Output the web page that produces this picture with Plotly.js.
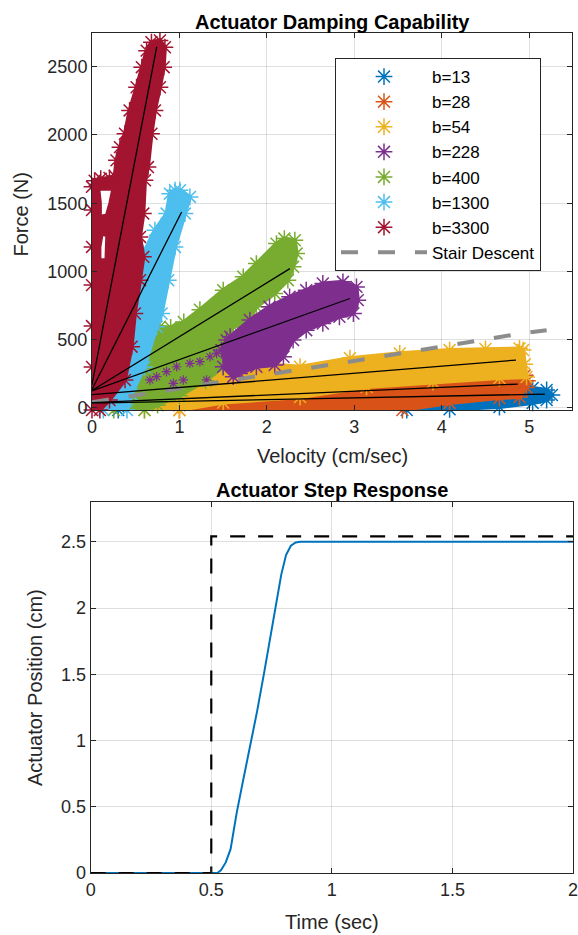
<!DOCTYPE html>
<html><head><meta charset="utf-8">
<script src="https://cdn.plot.ly/plotly-3.0.1.min.js"></script>
<style>html,body{margin:0;padding:0;background:#fff;}#chart{width:578px;height:935px;}</style>
</head><body><div id="chart"></div>
<script>
// ---------------- DATA ----------------
const seriesLabels = ['b=13','b=28','b=54','b=228','b=400','b=1300','b=3300'];

// outline of each measured point cloud: velocity (cm/sec), force (N)
const b13_vel   = [0.3, 3.6, 4.09, 4.66, 5.04, 5.2, 5.26, 5.2, 5.04, 4.9, 4.0, 2.0, 0.3];
const b13_force = [-15, -15, -10, 7, 37, 58, 95, 132, 146, 140, 100, 50, 10];

const b28_vel   = [1.0, 3.55, 4.09, 4.66, 4.89, 4.97, 4.98, 4.95, 4.66, 3.9, 3.14, 2.38, 1.5, 1.0];
const b28_force = [-15, -15, 37, 73, 80, 150, 200, 240, 219, 190, 154, 80, 45, 20];

const b54_vel   = [0.6, 1.0, 1.5, 2.38, 3.14, 3.9, 4.66, 4.97, 4.95, 4.93, 4.89, 4.5, 4.09, 3.52, 2.95, 2.38, 2.0, 1.6, 1.2, 0.74, 0.55];
const b54_force = [-15, -15, 40, 80, 154, 190, 219, 227, 320, 424, 436, 432, 424, 400, 365, 302, 320, 330, 250, 132, 40];

const b400_vel   = [0.25, 0.3, 0.42, 0.549, 0.65, 0.777, 0.9, 1.05, 1.234, 1.501, 1.73, 1.88, 2.11, 2.2, 2.32, 2.34, 2.30, 2.24, 2.09, 1.88, 1.77, 1.615, 1.54, 1.5, 1.3, 1.0, 0.75, 0.6];
const b400_force = [-15, 100, 280, 400, 520, 595, 590, 630, 720, 863, 961, 1058, 1204, 1241, 1229, 1131, 1034, 936, 839, 741, 619, 595, 522, 300, 200, 90, 20, -15];

const b228_vel   = [1.48, 1.54, 1.58, 1.806, 2.03, 2.26, 2.45, 2.64, 2.87, 3.025, 3.04, 2.99, 2.83, 2.64, 2.45, 2.30, 2.19, 2.09, 1.88, 1.69, 1.615, 1.50];
const b228_force = [424, 497, 522, 644, 741, 814, 863, 912, 924, 887, 790, 692, 668, 619, 570, 497, 375, 314, 302, 253, 229, 302];
const b228_speck_vel   = [0.663, 0.739, 0.853, 0.968, 1.044, 1.12, 1.234, 1.349, 1.425, 0.93, 1.31];
const b228_speck_force = [205, 229, 266, 302, 205, 327, 339, 375, 400, 180, 205];

const b1300_vel   = [0.13, 0.32, 0.396, 0.434, 0.49, 0.587, 0.72, 0.853, 0.891, 0.95, 1.006, 1.12, 1.063, 0.949, 0.872, 0.796, 0.739, 0.6, 0.45, 0.4];
const b1300_force = [-15, 205, 449, 692, 936, 1131, 1302, 1424, 1570, 1595, 1595, 1546, 1424, 1180, 936, 692, 595, 300, 100, -15];

const b3300_vel   = [0, 0, 0, 0, 0, 0, 0, 0.03, 0.1, 0.2, 0.26, 0.28, 0.32, 0.377, 0.43, 0.51, 0.57, 0.625, 0.68, 0.777, 0.834, 0.82, 0.777, 0.72, 0.68, 0.64, 0.606, 0.587, 0.549, 0.587, 0.549, 0.49, 0.453, 0.377, 0.2, 0.09];
const b3300_force = [-15, 300, 600, 900, 1180, 1450, 1620, 1665, 1680, 1685, 1700, 1814, 1911, 2009, 2180, 2350, 2497, 2618, 2680, 2692, 2643, 2497, 2350, 2180, 2009, 1765, 1668, 1424, 1253, 1107, 936, 692, 449, 205, 58, -15];
// white gaps inside the b=3300 cloud
const b3300_gapA_vel   = [0.09, 0.09, 0.17, 0.21, 0.244, 0.072, 0.09];
const b3300_gapA_force = [1450, 1400, 1410, 1500, 1606, 1606, 1500];
const b3300_gapB_vel   = [0.085, 0.085, 0.165, 0.175, 0.11];
const b3300_gapB_force = [1180, 1082, 1082, 1265, 1277];

// linear fits (black lines)
const fit_b13_vel   = [0.0, 5.18];  const fit_b13_force   = [35, 102];
const fit_b28_vel   = [0.0, 4.87];  const fit_b28_force   = [39, 175];
const fit_b54_vel   = [0.0, 4.85];  const fit_b54_force   = [98, 351];
const fit_b228_vel  = [0.0, 2.95];  const fit_b228_force  = [125, 802];
const fit_b400_vel  = [0.0, 2.263]; const fit_b400_force  = [128, 1021];
const fit_b1300_vel = [0.0, 1.025]; const fit_b1300_force = [135, 1436];
const fit_b3300_vel = [0.0, 0.74];  const fit_b3300_force = [170, 2645];

// stair descent demand
const stair_vel   = [0.0, 1.88, 2.68, 3.18, 4.93, 5.2];
const stair_force = [42, 229, 314, 363, 548, 570];

// step response
const step_time = [0, 0.525, 0.54, 0.56, 0.58, 0.605, 0.63, 0.66, 0.69, 0.72, 0.75, 0.771, 0.79, 0.81, 0.83, 0.85, 0.87, 2.0];
const step_pos  = [0, 0, 0.02, 0.08, 0.18, 0.45, 0.68, 0.95, 1.22, 1.52, 1.83, 2.05, 2.25, 2.40, 2.47, 2.495, 2.5, 2.5];
const cmd_time  = [0, 0.5, 0.5, 2.0];
const cmd_pos   = [0, 0, 2.54, 2.54];

// ticks
const velTicks   = [0, 1, 2, 3, 4, 5];
const forceTicks = [0, 500, 1000, 1500, 2000, 2500];
const timeTicks  = [0, 0.5, 1, 1.5, 2];
const posTicks   = [0, 0.5, 1, 1.5, 2, 2.5];

// ---------------- BUILD ----------------
const FONT = 'Liberation Sans, Arial, Helvetica, sans-serif';
const colors = {'b=13':'#0072BD','b=28':'#D95319','b=54':'#EDB120','b=228':'#7E2F8E','b=400':'#77AC30','b=1300':'#4DBEEE','b=3300':'#A2142F'};

function keyhole(ox, oy, holes) {
  const X = [], Y = [];
  for (let i = 0; i < ox.length; i++) {
    X.push(ox[i]); Y.push(oy[i]);
    holes.forEach(h => {
      if (oy[i] === h.y[0] && ox[i] === 0) {
        for (let j = 0; j < h.x.length; j++) { X.push(h.x[j]); Y.push(h.y[j]); }
        X.push(h.x[0]); Y.push(h.y[0]);
        X.push(ox[i]); Y.push(oy[i]);
      }
    });
  }
  return {X, Y};
}

const clouds = {
  'b=13':  {x: b13_vel,  y: b13_force},
  'b=28':  {x: b28_vel,  y: b28_force},
  'b=54':  {x: b54_vel,  y: b54_force},
  'b=400': {x: b400_vel, y: b400_force},
  'b=228': {x: b228_vel, y: b228_force},
  'b=1300':{x: b1300_vel,y: b1300_force},
  'b=3300':{x: b3300_vel,y: b3300_force}
};
const fits = {
  'b=13':[fit_b13_vel,fit_b13_force],'b=28':[fit_b28_vel,fit_b28_force],'b=54':[fit_b54_vel,fit_b54_force],
  'b=228':[fit_b228_vel,fit_b228_force],'b=400':[fit_b400_vel,fit_b400_force],
  'b=1300':[fit_b1300_vel,fit_b1300_force],'b=3300':[fit_b3300_vel,fit_b3300_force]
};
const drawOrder = ['b=13','b=28','b=54','b=400','b=228','b=1300','b=3300'];

const traces = [];
drawOrder.forEach(lab => {
  const c = colors[lab];
  let px = clouds[lab].x, py = clouds[lab].y;
  if (lab === 'b=3300') {
    const k = keyhole(px, py, [{x:b3300_gapB_vel,y:b3300_gapB_force},{x:b3300_gapA_vel,y:b3300_gapA_force}]);
    px = k.X; py = k.Y;
  }
  traces.push({x: px, y: py, mode:'lines', fill:'toself', fillcolor:c,
    line:{color:c, width:4, shape:'linear'}, showlegend:false, hoverinfo:'skip', xaxis:'x', yaxis:'y'});
  traces.push({x: clouds[lab].x, y: clouds[lab].y, mode:'markers', name: lab,
    legendrank: seriesLabels.indexOf(lab) + 1, cliponaxis:false,
    marker:{symbol:'asterisk-open', size:14, color:c, line:{color:c, width:1.5}},
    hoverinfo:'skip', xaxis:'x', yaxis:'y'});
  if (lab === 'b=228') {
    traces.push({x: b228_speck_vel, y: b228_speck_force, mode:'markers', showlegend:false,
      marker:{symbol:'asterisk-open', size:8, color:c, line:{color:c, width:1.2}},
      hoverinfo:'skip', xaxis:'x', yaxis:'y'});
  }
});
traces.push({x: stair_vel, y: stair_force, mode:'lines', name:'Stair Descent', legendrank: 8,
  line:{color:'#8c8c8c', width:4, dash:'17px,20px'}, hoverinfo:'skip', xaxis:'x', yaxis:'y'});
seriesLabels.forEach(lab => {
  traces.push({x: fits[lab][0], y: fits[lab][1], mode:'lines', showlegend:false,
    line:{color:'#000', width:1.3}, hoverinfo:'skip', xaxis:'x', yaxis:'y'});
});
traces.push({x: step_time, y: step_pos, mode:'lines', showlegend:false,
  line:{color:'#0072BD', width:2}, hoverinfo:'skip', xaxis:'x2', yaxis:'y2'});
traces.push({x: cmd_time, y: cmd_pos, mode:'lines', showlegend:false, cliponaxis:false,
  line:{color:'#000', width:2.2, dash:'15px,13px'}, hoverinfo:'skip', xaxis:'x2', yaxis:'y2'});

const axisCommon = {
  showline:true, mirror:'ticks', linecolor:'#262626', linewidth:1,
  ticks:'inside', ticklen:5, tickwidth:1, tickcolor:'#262626',
  showgrid:true, gridcolor:'rgba(38,38,38,0.15)', gridwidth:1, zeroline:false,
  ticklabeloverflow:'allow',
  tickfont:{family:FONT, size:18, color:'#262626'}, fixedrange:true
};
const W = 578, H = 935;
const px2x = p => p / W, px2y = p => 1 - p / H;

const layout = {
  width:W, height:H, margin:{l:0,r:0,t:0,b:0}, paper_bgcolor:'#fff', plot_bgcolor:'#fff',
  showlegend:true,
  xaxis: Object.assign({}, axisCommon, {domain:[px2x(92), px2x(572)], range:[0, 5.49], tickvals:velTicks, anchor:'y'}),
  yaxis: Object.assign({}, axisCommon, {domain:[px2y(410), px2y(33.3)], range:[-15, 2745], tickvals:forceTicks, anchor:'x'}),
  xaxis2: Object.assign({}, axisCommon, {domain:[px2x(90.7), px2x(573)], range:[0, 2], tickvals:timeTicks, anchor:'y2'}),
  yaxis2: Object.assign({}, axisCommon, {domain:[px2y(873), px2y(502)], range:[0, 2.8], tickvals:posTicks, anchor:'x2'}),
  legend: {x:px2x(335), y:px2y(58), xanchor:'left', yanchor:'top', bgcolor:'#fff',
    bordercolor:'#262626', borderwidth:1, itemwidth:86, tracegroupgap:0,
    font:{family:FONT, size:17, color:'#000'}},
  annotations: [
    {text:'<b>Actuator Damping Capability</b>', x:px2x(332), y:px2y(22), font:{family:FONT, size:20, color:'#000'}},
    {text:'Velocity (cm/sec)', x:px2x(332), y:px2y(456), font:{family:FONT, size:20, color:'#262626'}},
    {text:'Force (N)', x:px2x(20.5), y:px2y(215), textangle:-90, font:{family:FONT, size:20, color:'#262626'}},
    {text:'<b>Actuator Step Response</b>', x:px2x(332), y:px2y(490), font:{family:FONT, size:20, color:'#000'}},
    {text:'Time (sec)', x:px2x(332), y:px2y(922), font:{family:FONT, size:20, color:'#262626'}},
    {text:'Actuator Position (cm)', x:px2x(34.5), y:px2y(687.5), textangle:-90, font:{family:FONT, size:20, color:'#262626'}}
  ].map(a => Object.assign({xref:'paper', yref:'paper', showarrow:false, xanchor:'center', yanchor:'middle'}, a))
};

Plotly.newPlot('chart', traces, layout, {staticPlot:true, displayModeBar:false});
</script></body></html>
